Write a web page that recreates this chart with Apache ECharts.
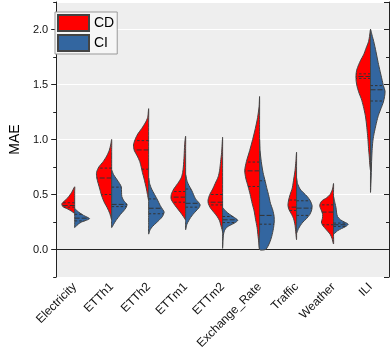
<!DOCTYPE html>
<html>
<head>
<meta charset="utf-8">
<script src="https://cdn.jsdelivr.net/npm/echarts@6/dist/echarts.min.js"></script>
<style>
  html, body { margin: 0; padding: 0; background: #fff; }
  #main { width: 390px; height: 359px; }
</style>
</head>
<body>
<div id="main"></div>
<script>
var categories = ['Electricity', 'ETTh1', 'ETTh2', 'ETTm1', 'ETTm2', 'Exchange_Rate', 'Traffic', 'Weather', 'ILI'];

// density profiles [MAE, density], top to bottom
var cdProfiles = [
  [[0.57,0],[0.52,3],[0.47,7],[0.44,10.5],[0.415,13],[0.39,12],[0.37,7.5],[0.35,3.5],[0.33,0]],
  [[1.0,0],[0.95,1],[0.9,2.5],[0.85,5],[0.8,8.5],[0.75,13],[0.7,15.3],[0.65,15],[0.6,13.6],[0.55,12],[0.5,10.5],[0.45,8.5],[0.42,7],[0.38,4.5],[0.33,2],[0.3,1],[0.27,0]],
  [[1.28,0],[1.2,1],[1.15,3.5],[1.1,7],[1.05,11],[1.0,13.7],[0.95,15.3],[0.9,14.5],[0.85,11.5],[0.8,9],[0.75,7.5],[0.7,6.3],[0.65,4.8],[0.6,3.5],[0.55,2.2],[0.5,1.2],[0.45,0]],
  [[1.03,0],[0.95,1],[0.85,1.5],[0.75,2.3],[0.7,3],[0.65,4.5],[0.6,8],[0.55,12],[0.5,14.5],[0.46,14.7],[0.42,12.3],[0.38,9],[0.34,5.5],[0.3,2.3],[0.27,0]],
  [[1.02,0],[0.95,0.5],[0.88,1],[0.8,2],[0.72,3],[0.66,4.5],[0.6,7.5],[0.55,10],[0.5,13],[0.45,14.7],[0.42,14.5],[0.38,12.5],[0.34,9],[0.3,5.5],[0.26,3],[0.22,1.8],[0.18,0.5],[0.16,0]],
  [[1.39,0],[1.3,0.5],[1.2,2],[1.1,4.3],[1.0,7],[0.9,10],[0.8,13.3],[0.72,15],[0.65,14],[0.57,11.5],[0.5,9.5],[0.42,7.5],[0.35,5.5],[0.27,4],[0.2,2.5],[0.12,1.5],[0.05,0.6],[0,0]],
  [[0.885,0],[0.8,0.7],[0.72,1.5],[0.65,2.7],[0.56,4.3],[0.5,6.5],[0.45,8],[0.4,8.7],[0.36,7.5],[0.32,5],[0.28,3],[0.22,1.5],[0.15,0.7],[0.09,0]],
  [[0.6,0],[0.55,1],[0.5,3.5],[0.47,7],[0.44,12],[0.4,14],[0.36,12.5],[0.32,11],[0.28,11.3],[0.25,12.3],[0.22,11],[0.18,7.3],[0.14,3.5],[0.1,1.5],[0.05,0]],
  [[2.0,0],[1.95,0.8],[1.89,2],[1.83,4.5],[1.77,7],[1.72,10],[1.68,12],[1.63,14],[1.58,14.7],[1.53,14.5],[1.48,13.5],[1.42,11.5],[1.37,9.3],[1.3,7.2],[1.22,5.3],[1.15,4.2],[1.07,3.3],[1.0,2.6],[0.92,2],[0.85,1.3],[0.77,0.7],[0.72,0]]
];
var ciProfiles = [
  [[0.37,0],[0.34,4],[0.31,9],[0.29,13.5],[0.28,15],[0.27,13],[0.25,7],[0.23,3.5],[0.21,1.2],[0.2,0]],
  [[0.72,0],[0.68,2],[0.64,5],[0.6,8],[0.57,9.7],[0.52,10],[0.48,10.3],[0.44,12.5],[0.41,15.5],[0.38,14.5],[0.35,12],[0.32,9],[0.29,6.5],[0.26,4],[0.23,2],[0.2,0]],
  [[0.65,0],[0.6,1],[0.55,3],[0.5,6],[0.45,9],[0.4,11.7],[0.36,14.5],[0.34,15.7],[0.3,14],[0.27,11],[0.24,7.5],[0.21,4],[0.18,1.5],[0.14,0]],
  [[0.68,0],[0.62,1.5],[0.58,3.5],[0.54,6],[0.5,8],[0.46,10],[0.43,13],[0.405,14.7],[0.38,13.5],[0.35,10.5],[0.32,7.5],[0.29,5],[0.26,3],[0.23,1.3],[0.18,0]],
  [[0.38,0],[0.35,3],[0.32,7],[0.29,12],[0.265,15.3],[0.24,12],[0.22,7.5],[0.2,4],[0.17,1.8],[0.13,0.8],[0.08,0.4],[0.01,0]],
  [[1.0,0],[0.9,0.5],[0.8,1.7],[0.7,3.5],[0.62,5.7],[0.55,7.5],[0.5,9],[0.42,11],[0.36,13.3],[0.3,14.7],[0.25,14.8],[0.19,14],[0.12,12.3],[0.07,10.5],[0.03,8.5],[0,6]],
  [[0.65,0],[0.6,1],[0.55,3.5],[0.52,6.5],[0.48,11],[0.44,14],[0.4,15.7],[0.36,15.3],[0.32,13.5],[0.28,10],[0.25,6.5],[0.22,4],[0.19,2],[0.15,0]],
  [[0.48,0],[0.42,1.5],[0.38,2.5],[0.34,3],[0.3,4],[0.27,7],[0.25,11],[0.23,14.8],[0.21,12.5],[0.19,8],[0.17,4],[0.15,1.5],[0.14,0]],
  [[2.0,0],[1.95,1.5],[1.89,3.3],[1.8,5.5],[1.7,7.7],[1.62,9.7],[1.55,11.5],[1.49,13],[1.44,14.7],[1.39,14.2],[1.34,13],[1.28,10.5],[1.22,8],[1.16,6.2],[1.1,4.7],[1.04,3.3],[0.98,2.3],[0.9,1.6],[0.8,1.1],[0.7,0.8],[0.6,0.4],[0.52,0]]
];

// quartiles [Q1, median, Q3]
var cdQuartiles = [[0.385,0.40,0.425],[0.50,0.65,0.74],[0.73,0.905,0.99],[0.43,0.476,0.527],[0.405,0.43,0.50],[0.573,0.715,0.795],[0.355,0.385,0.45],[0.225,0.34,0.406],[1.555,1.573,1.597]];
var ciQuartiles = [[0.26,0.285,0.32],[0.39,0.41,0.567],[0.325,0.375,0.46],[0.385,0.42,0.55],[0.245,0.27,0.30],[0.23,0.31,0.625],[0.31,0.376,0.443],[0.21,0.225,0.24],[1.35,1.452,1.49]];

var maxDensity = 15.7;

function densityAt(prof, v) {
  for (var k = 0; k < prof.length - 1; k++) {
    var a = prof[k], b = prof[k + 1];
    if (v <= a[0] && v >= b[0]) {
      var t = (a[0] - v) / (a[0] - b[0]);
      return a[1] + (b[1] - a[1]) * t;
    }
  }
  return 0;
}

function makeRender(profiles, quarts, side) {
  return function (params, api) {
    var i = api.value(0);
    var prof = profiles[i];
    var band = api.size([1, 0])[0];
    var scale = band * 0.42 / maxDensity;
    var cx = api.coord([i, 0])[0];
    var pts = prof.map(function (p) {
      return [cx + side * p[1] * scale, api.coord([i, p[0]])[1]];
    });
    var yTop = api.coord([i, prof[0][0]])[1];
    var yBot = api.coord([i, prof[prof.length - 1][0]])[1];
    if (prof[prof.length - 1][1] > 0) pts.push([cx, yBot]);
    // close along centre line
    for (var s = 1; s < 6; s++) {
      pts.push([cx, yBot + (yTop - yBot) * s / 6]);
    }
    var children = [{
      type: 'polygon',
      shape: { points: pts, smooth: 0.25 },
      style: { fill: api.visual('color'), stroke: '#444', lineWidth: 1 }
    }];
    quarts[i].forEach(function (q, k) {
      var w = densityAt(prof, q) * scale;
      var y = api.coord([i, q])[1];
      children.push({
        type: 'line',
        shape: { x1: cx, y1: y, x2: cx + side * w, y2: y },
        style: { stroke: '#333', lineWidth: 1, lineDash: k === 1 ? [5, 2] : [2.5, 2] }
      });
    });
    return { type: 'group', children: children };
  };
}

var chart = echarts.init(document.getElementById('main'));
var font = 'Liberation Sans, Arial, sans-serif';

var option = {
  animation: false,
  textStyle: { fontFamily: font },
  grid: { left: 45, right: 1, top: 2, bottom: 82, show: true, backgroundColor: '#eeeeee', borderWidth: 0 },
  legend: {
    data: ['CD', 'CI'],
    orient: 'vertical',
    left: 55, top: 12,
    itemWidth: 31, itemHeight: 16, itemGap: 2,
    padding: [2, 3, 2, 2],
    backgroundColor: '#f6f6f6',
    borderColor: '#999', borderWidth: 1, borderRadius: 0,
    textStyle: { fontSize: 14, color: '#000', fontFamily: font },
    icon: 'rect'
  },
  xAxis: [{
    type: 'category', data: categories, position: 'bottom',
    axisLine: { lineStyle: { color: '#222' } },
    axisTick: { alignWithLabel: true, length: 5, lineStyle: { color: '#222' } },
    axisLabel: { rotate: 45, interval: 0, fontSize: 12, color: '#111', margin: 8, fontFamily: font },
    splitLine: { show: false }
  }, {
    type: 'category', data: categories, position: 'top',
    axisLine: { lineStyle: { color: '#222' } },
    axisTick: { alignWithLabel: true, inside: true, length: 4, lineStyle: { color: '#222' } },
    axisLabel: { show: false },
    splitLine: { show: false }
  }],
  yAxis: [{
    type: 'value', min: -0.25, max: 2.25, splitNumber: 5, position: 'left',
    name: 'MAE', nameLocation: 'middle', nameGap: 28,
    nameTextStyle: { fontSize: 14, color: '#000', fontFamily: font },
    axisLine: { show: true, lineStyle: { color: '#222' } },
    axisTick: { show: true, length: 5, lineStyle: { color: '#222' } },
    axisLabel: { fontSize: 11, color: '#111', margin: 8, showMinLabel: false, showMaxLabel: false,
      formatter: function (v) { return v.toFixed(1); } },
    splitLine: { show: true, lineStyle: { color: '#ffffff', width: 1.2 } }
  }, {
    type: 'value', min: -0.25, max: 2.25, interval: 0.25, position: 'left',
    axisLine: { show: false },
    axisTick: { show: true, length: 3, lineStyle: { color: '#222' } },
    axisLabel: { show: false },
    splitLine: { show: false }
  }, {
    type: 'value', min: -0.25, max: 2.25, splitNumber: 5, position: 'right',
    axisLine: { show: true, lineStyle: { color: '#222' } },
    axisTick: { show: true, inside: true, length: 5, lineStyle: { color: '#222' } },
    axisLabel: { show: false },
    splitLine: { show: false }
  }, {
    type: 'value', min: -0.25, max: 2.25, interval: 0.25, position: 'right',
    axisLine: { show: false },
    axisTick: { show: true, inside: true, length: 3, lineStyle: { color: '#222' } },
    axisLabel: { show: false },
    splitLine: { show: false }
  }],
  series: [{
    name: 'CD', type: 'custom', coordinateSystem: 'cartesian2d',
    itemStyle: { color: '#ff0000', borderColor: '#444', borderWidth: 1 },
    renderItem: makeRender(cdProfiles, cdQuartiles, -1),
    encode: { x: 0, y: 1 },
    data: categories.map(function (c, i) { return [i, cdQuartiles[i][1]]; })
  }, {
    name: 'CI', type: 'custom', coordinateSystem: 'cartesian2d',
    itemStyle: { color: '#3366a0', borderColor: '#444', borderWidth: 1 },
    renderItem: makeRender(ciProfiles, ciQuartiles, 1),
    encode: { x: 0, y: 1 },
    data: categories.map(function (c, i) { return [i, ciQuartiles[i][1]]; })
  }]
};
chart.setOption(option);
</script>
</body>
</html>
